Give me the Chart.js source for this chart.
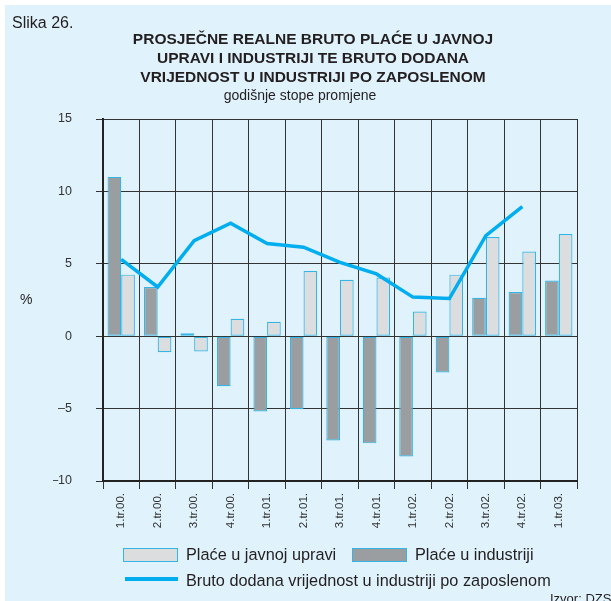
<!DOCTYPE html>
<html>
<head>
<meta charset="utf-8">
<script src="https://cdn.jsdelivr.net/npm/chart.js@4/dist/chart.umd.min.js"></script>
<style>
  html, body { margin: 0; padding: 0; background: #fff; }
  body { width: 611px; height: 601px; position: relative; overflow: hidden;
         font-family: "Liberation Sans", Arial, sans-serif; color: #231f20; }
  #panel { position: absolute; left: 5px; top: 5px; right: 0; bottom: 0; background: #e0f2fb; }
  #chart { position: absolute; left: 0; top: 0; }
  .txt { position: absolute; white-space: nowrap; line-height: 19px; }
  .title { left: 0; width: 626px; text-align: center; font-weight: bold; font-size: 15.5px; }
  .leg { font-size: 16.3px; }
  .box { position: absolute; width: 53px; height: 12px; border: 1px solid #35b5e6; }
</style>
</head>
<body>
<div id="panel"></div>
<canvas id="chart" width="611" height="601"></canvas>

<div class="txt" style="left:12px; top:13px; font-size:16px;">Slika 26.</div>
<div class="txt title" style="top:29px;">PROSJEČNE REALNE BRUTO PLAĆE U JAVNOJ</div>
<div class="txt title" style="top:48px;">UPRAVI I INDUSTRIJI TE BRUTO DODANA</div>
<div class="txt title" style="top:67px;">VRIJEDNOST U INDUSTRIJI PO ZAPOSLENOM</div>
<div class="txt" style="left:0; width:600px; text-align:center; top:86px; font-size:14px;">godišnje stope promjene</div>
<div class="txt" style="left:20px; top:290px; font-size:14px;">%</div>

<div class="box" style="left:123px; top:548px; background:#dcdddf;"></div>
<div class="txt leg" style="left:186px; top:545px;">Plaće u javnoj upravi</div>
<div class="box" style="left:352px; top:548px; background:#9b9ea0;"></div>
<div class="txt leg" style="left:415px; top:545px;">Plaće u industriji</div>
<div style="position:absolute; left:125px; top:577px; width:53px; height:4px; background:#00aeef;"></div>
<div class="txt leg" style="left:186px; top:571px;">Bruto dodana vrijednost u industriji po zaposlenom</div>
<div class="txt" style="left:550px; top:589px; font-size:13px;">Izvor: DZS</div>

<script>
const categories = ['1.tr.00.', '2.tr.00.', '3.tr.00.', '4.tr.00.', '1.tr.01.', '2.tr.01.', '3.tr.01.',
    '4.tr.01.', '1.tr.02.', '2.tr.02.', '3.tr.02.', '4.tr.02.', '1.tr.03.'];
const placeJavnaUprava = [4.25, -1.1, -1.05, 1.2, 1.0, 4.5, 3.9, 4.05, 1.7, 4.25, 6.85, 5.85, 7.05];
const placeIndustrija = [11.0, 3.4, 0.2, -3.45, -5.2, -5.05, -7.2, -7.4, -8.3, -2.5, 2.65, 3.05, 3.85];
const dodanaVrijednost = [5.3, 3.4, 6.6, 7.8, 6.4, 6.15, 5.1, 4.3, 2.7, 2.6, 6.95, 8.95, null];
const yMin = -10, yMax = 15, yStep = 5;

const ctx = document.getElementById('chart').getContext('2d');
new Chart(ctx, {
    data: {
        labels: categories,
        datasets: [
            {
                type: 'line',
                label: 'Bruto dodana vrijednost u industriji po zaposlenom',
                data: dodanaVrijednost,
                borderColor: '#00aeef',
                borderWidth: 3.5,
                pointRadius: 0,
                tension: 0,
                order: 0
            },
            {
                type: 'bar',
                label: 'Plaće u industriji',
                data: placeIndustrija,
                backgroundColor: '#9b9ea0',
                borderColor: '#35b5e6',
                borderWidth: 1.2,
                borderSkipped: false,
                order: 1
            },
            {
                type: 'bar',
                label: 'Plaće u javnoj upravi',
                data: placeJavnaUprava,
                backgroundColor: '#dcdddf',
                borderColor: '#35b5e6',
                borderWidth: 1.2,
                borderSkipped: false,
                order: 1
            }
        ]
    },
    options: {
        responsive: false,
        animation: false,
        categoryPercentage: 0.75,
        barPercentage: 1.0,
        layout: { padding: { left: 53, top: 119, right: 34, bottom: 60 } },
        plugins: {
            legend: { display: false },
            tooltip: { enabled: false }
        },
        scales: {
            x: {
                offset: true,
                afterFit: (scale) => { scale.height = 60; },
                grid: { offset: true, color: '#333', lineWidth: 1, tickLength: 8 },
                border: { color: '#222', width: 2 },
                ticks: {
                    minRotation: 90, maxRotation: 90, padding: 4,
                    color: '#333',
                    font: { family: 'Liberation Sans', size: 11.5 }
                }
            },
            y: {
                min: yMin, max: yMax,
                afterFit: (scale) => { scale.width = 50; },
                grid: { color: '#333', lineWidth: 1, tickLength: 7 },
                border: { color: '#222', width: 2 },
                ticks: {
                    stepSize: yStep, padding: 24,
                    color: '#333',
                    font: { family: 'Liberation Sans', size: 12.5 },
                    callback: (v) => String(v).replace('-', '\u2013')
                }
            }
        }
    }
});
</script>
</body>
</html>
